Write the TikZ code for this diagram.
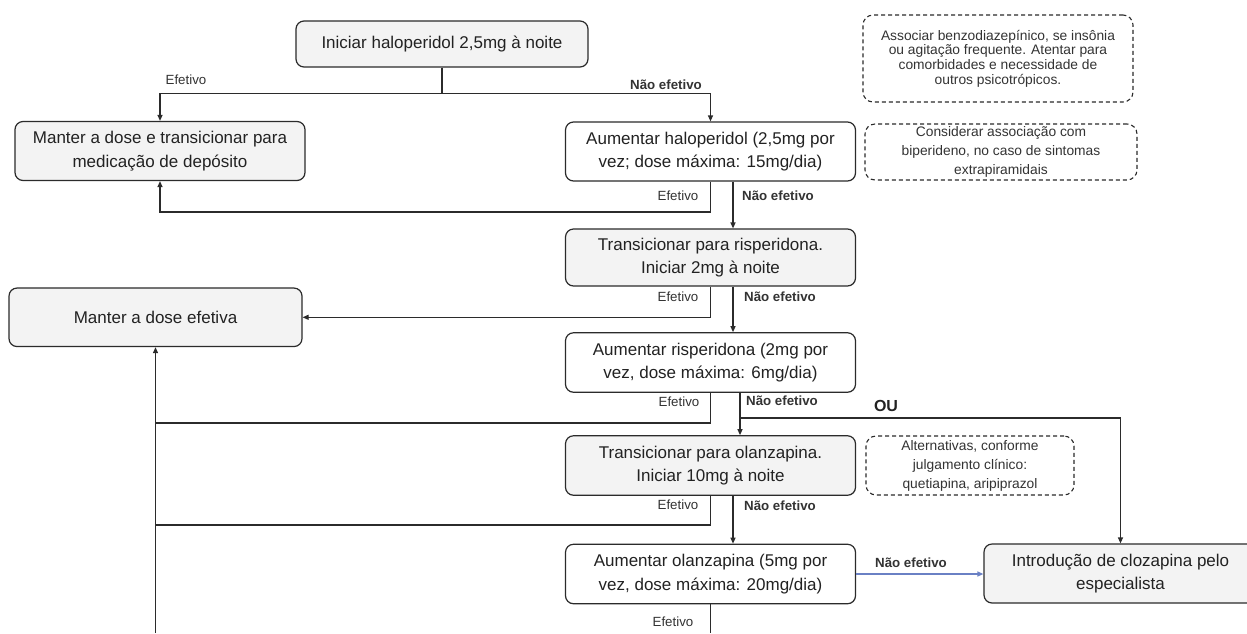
\documentclass[tikz,border=0pt]{standalone}
\usepackage{fontspec}
\setmainfont{Liberation Sans}
\usetikzlibrary{arrows.meta,positioning}
\definecolor{boxfill}{HTML}{F3F3F3}
\definecolor{linec}{HTML}{2B2B2B}
\definecolor{txtc}{HTML}{222222}
\definecolor{lblc}{HTML}{333333}
\definecolor{bluec}{HTML}{6A80C4}
\tikzset{
  boxbase/.style={draw=linec, line width=1.2pt, rounded corners=8pt, inner sep=0pt,
    align=center, text=txtc, font=\fontsize{17}{23.5}\selectfont},
  graybox/.style={boxbase, fill=boxfill, minimum width=#1},
  whitebox/.style={boxbase, fill=white, minimum width=#1},
  notebox/.style={draw=linec, line width=1.1pt, dash pattern=on 4pt off 3pt, rounded corners=10pt,
    inner sep=0pt, align=center, text=lblc},
  lbl/.style={inner sep=0pt, text=lblc, font=\fontsize{13.3}{15}\selectfont},
  blbl/.style={lbl, font=\fontsize{13.3}{15}\selectfont\bfseries},
  conn/.style={draw=linec, line width=1.2pt},
  arr/.style={conn, -{Triangle[length=6pt,width=5pt]}},
  arrblue/.style={draw=bluec, line width=1.2pt, -{Triangle[length=6pt,width=5pt]}}
}
\begin{document}
\begin{tikzpicture}[x=1pt,y=-1pt]
\clip (0,0) rectangle (1247,633);
\fill[white] (0,0) rectangle (1247,633);
% nodes
\node[graybox=292pt, minimum height=46pt] (n1) at (442,44) {Iniciar haloperidol 2,5mg à noite};
\node[graybox=290pt, minimum height=59pt] (n2) at (160,151) {Manter a dose e transicionar para\\medicação de depósito};
\node[whitebox=290pt, minimum height=59pt] (n3) at (710.5,151.5) {Aumentar haloperidol (2,5mg por\\vez; dose máxima: 15mg/dia)};
\node[graybox=290pt, minimum height=57pt] (n4) at (710.5,257.5) {Transicionar para risperidona.\\Iniciar 2mg à noite};
\node[graybox=293pt, minimum height=58.5pt] (n5) at (155.5,317.3) {Manter a dose efetiva};
\node[whitebox=290pt, minimum height=59.5pt] (n6) at (710.5,362.5) {Aumentar risperidona (2mg por\\vez, dose máxima: 6mg/dia)};
\node[graybox=290pt, minimum height=59.5pt] (n7) at (710.5,465.5) {Transicionar para olanzapina.\\Iniciar 10mg à noite};
\node[whitebox=290pt, minimum height=59.5pt] (n8) at (710.5,574) {Aumentar olanzapina (5mg por\\vez, dose máxima: 20mg/dia)};
\node[graybox=273pt, minimum height=59pt] (n9) at (1120.5,573.5) {Introdução de clozapina pelo\\especialista};
% notes
\node[notebox, minimum width=270pt, minimum height=87pt, font=\fontsize{13.8}{14.6}\selectfont] (note1) at (998,58.5)
  {Associar benzodiazepínico, se insônia\\ou agitação frequente. Atentar para\\comorbidades e necessidade de\\outros psicotrópicos.};
\node[notebox, minimum width=272pt, minimum height=56pt, font=\fontsize{13.8}{19}\selectfont] (note2) at (1001,152)
  {Considerar associação com\\biperideno, no caso de sintomas\\extrapiramidais};
\node[notebox, minimum width=208pt, minimum height=59pt, font=\fontsize{13.8}{19}\selectfont] (note3) at (970,465.5)
  {Alternativas, conforme\\julgamento clínico:\\quetiapina, aripiprazol};
% helper coordinates
\coordinate (bot) at (155.5,633);
\coordinate (botr) at (710.5,633);
% connectors
\draw[arr] (n1.south) -- (n1.south |- 0,93.5) -| (n2.north);
\draw[arr] (n1.south) -- (n1.south |- 0,93.5) -| (n3.north);
\draw[arr] (n3.south) -- (n3.south |- 0,212) -| (n2.south);
\draw[arr] ([xshift=22.5pt]n3.south) -- ([xshift=22.5pt]n4.north);
\draw[arr] (n4.south) |- (n5.east);
\draw[arr] ([xshift=22.5pt]n4.south) -- ([xshift=22.5pt]n6.north);
\draw[arr] (bot) -- (n5.south);
\draw[conn] (n6.south) |- (bot |- 0,423);
\draw[arr] ([xshift=29.5pt]n6.south) -- ([xshift=29.5pt]n7.north);
\draw[arr] ([xshift=29.5pt]n6.south |- 0,418) -| (n9.north);
\draw[conn] (n7.south) |- (bot |- 0,525);
\draw[arr] ([xshift=22.5pt]n7.south) -- ([xshift=22.5pt]n8.north);
\draw[arrblue] (n8.east) -- (n8.east -| n9.west);
\draw[conn] (n8.south) -- (botr);
% labels
\node[lbl] (e1) at (186,80) {Efetivo};
\node[blbl] (ne1) at (666,85) {Não efetivo};
\node[lbl] (e2) at (678,196) {Efetivo};
\node[blbl] (ne2) at (778,196) {Não efetivo};
\node[lbl] (e3) at (678,297) {Efetivo};
\node[blbl] (ne3) at (780,297) {Não efetivo};
\node[lbl] (e4) at (679,402) {Efetivo};
\node[blbl] (ne4) at (782,401) {Não efetivo};
\node[inner sep=0pt, text=txtc, font=\fontsize{16}{18}\selectfont\bfseries] (ou) at (886,406) {OU};
\node[lbl] (e5) at (678,505) {Efetivo};
\node[blbl] (ne5) at (780,506) {Não efetivo};
\node[blbl] (ne6) at (911,563) {Não efetivo};
\node[lbl] (e6) at (673,622) {Efetivo};
\end{tikzpicture}
\end{document}
